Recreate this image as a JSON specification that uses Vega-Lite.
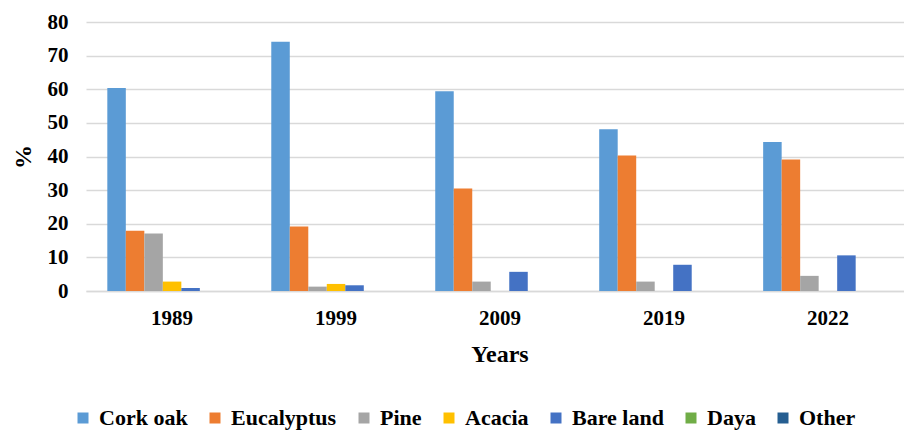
{
  "$schema": "https://vega.github.io/schema/vega-lite/v6.json",
  "autosize": {"type": "none"},
  "width": 818,
  "height": 269,
  "padding": {"left": 86, "top": 22, "right": 0, "bottom": 142},
  "background": "white",
  "config": {
    "view": {"stroke": null},
    "font": "Liberation Serif",
    "axis": {"labelFont": "Liberation Serif", "titleFont": "Liberation Serif", "labelFontWeight": "bold", "titleFontWeight": "bold", "labelColor": "#000000", "titleColor": "#000000"}
  },
  "data": {
    "values": [
      {"year": "1989", "cover": "Cork oak", "pct": 60.4},
      {"year": "1989", "cover": "Eucalyptus", "pct": 17.9},
      {"year": "1989", "cover": "Pine", "pct": 17.1},
      {"year": "1989", "cover": "Acacia", "pct": 2.8},
      {"year": "1989", "cover": "Bare land", "pct": 0.9},
      {"year": "1989", "cover": "Daya", "pct": 0},
      {"year": "1989", "cover": "Other", "pct": 0},
      {"year": "1999", "cover": "Cork oak", "pct": 74.1},
      {"year": "1999", "cover": "Eucalyptus", "pct": 19.2},
      {"year": "1999", "cover": "Pine", "pct": 1.3},
      {"year": "1999", "cover": "Acacia", "pct": 2.1},
      {"year": "1999", "cover": "Bare land", "pct": 1.7},
      {"year": "1999", "cover": "Daya", "pct": 0},
      {"year": "1999", "cover": "Other", "pct": 0},
      {"year": "2009", "cover": "Cork oak", "pct": 59.4},
      {"year": "2009", "cover": "Eucalyptus", "pct": 30.5},
      {"year": "2009", "cover": "Pine", "pct": 2.8},
      {"year": "2009", "cover": "Acacia", "pct": 0},
      {"year": "2009", "cover": "Bare land", "pct": 5.7},
      {"year": "2009", "cover": "Daya", "pct": 0},
      {"year": "2009", "cover": "Other", "pct": 0},
      {"year": "2019", "cover": "Cork oak", "pct": 48.1},
      {"year": "2019", "cover": "Eucalyptus", "pct": 40.3},
      {"year": "2019", "cover": "Pine", "pct": 2.8},
      {"year": "2019", "cover": "Acacia", "pct": 0},
      {"year": "2019", "cover": "Bare land", "pct": 7.8},
      {"year": "2019", "cover": "Daya", "pct": 0},
      {"year": "2019", "cover": "Other", "pct": 0},
      {"year": "2022", "cover": "Cork oak", "pct": 44.3},
      {"year": "2022", "cover": "Eucalyptus", "pct": 39.1},
      {"year": "2022", "cover": "Pine", "pct": 4.5},
      {"year": "2022", "cover": "Acacia", "pct": 0},
      {"year": "2022", "cover": "Bare land", "pct": 10.6},
      {"year": "2022", "cover": "Daya", "pct": 0},
      {"year": "2022", "cover": "Other", "pct": 0}
    ]
  },
  "mark": {"type": "bar"},
  "encoding": {
    "x": {
      "field": "year", "type": "nominal", "title": "Years",
      "scale": {"range": [0, 828], "paddingInner": 0.21, "paddingOuter": 0.13},
      "axis": {"labelAngle": 0, "labelFontSize": 21, "labelPadding": 16, "ticks": false, "domainColor": "#D9D9D9", "domainWidth": 1.5, "titleFontSize": 24, "titlePadding": 14, "titleX": 413.5}
    },
    "xOffset": {
      "field": "cover", "type": "nominal",
      "sort": ["Cork oak", "Eucalyptus", "Pine", "Acacia", "Bare land", "Daya", "Other"],
      "scale": {"paddingInner": 0, "paddingOuter": 0}
    },
    "y": {
      "field": "pct", "type": "quantitative", "title": "%",
      "scale": {"domain": [0, 80], "nice": false},
      "axis": {"values": [0, 10, 20, 30, 40, 50, 60, 70, 80], "labelFontSize": 21, "labelPadding": 18, "ticks": false, "domain": false, "gridColor": "#D9D9D9", "gridWidth": 1.5, "titleFontSize": 24, "titlePadding": 12}
    },
    "color": {
      "field": "cover", "type": "nominal",
      "sort": ["Cork oak", "Eucalyptus", "Pine", "Acacia", "Bare land", "Daya", "Other"],
      "scale": {
        "domain": ["Cork oak", "Eucalyptus", "Pine", "Acacia", "Bare land", "Daya", "Other"],
        "range": ["#5B9BD5", "#ED7D31", "#A5A5A5", "#FFC000", "#4472C4", "#70AD47", "#255E91"]
      },
      "legend": {
        "title": null, "orient": "none", "direction": "horizontal", "legendX": -14, "legendY": 385,
        "symbolType": "square", "symbolSize": 121, "symbolStrokeWidth": 0,
        "labelFont": "Liberation Serif", "labelFontWeight": "bold", "labelColor": "#000000",
        "labelFontSize": 22, "labelOffset": 5, "columnPadding": 16, "padding": 0, "labelLimit": 300
      }
    }
  }
}
